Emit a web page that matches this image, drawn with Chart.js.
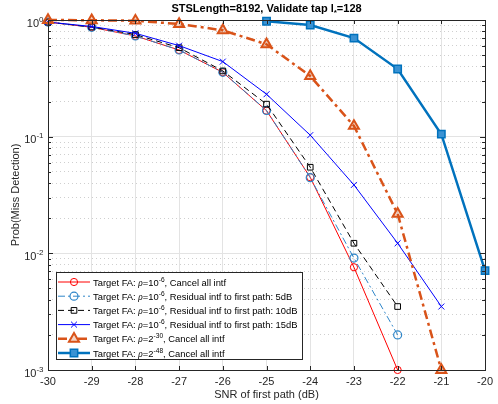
<!DOCTYPE html>
<html>
<head>
<meta charset="utf-8">
<script src="https://cdn.jsdelivr.net/npm/chart.js@4.4.0/dist/chart.umd.min.js"></script>
<style>
html,body{margin:0;padding:0;background:#fff;}
canvas{display:block;}
</style>
</head>
<body>
<canvas id="c" width="498" height="404"></canvas>
<script>
// values
const snr = [-30, -29, -28, -27, -26, -25, -24, -23, -22, -21, -20];
const cancelAll = [0.96, 0.866, 0.73, 0.553, 0.356, 0.167, 0.0449, 0.0076, 0.001, null, null];
const res5dB = [0.96, 0.866, 0.73, 0.553, 0.356, 0.168, 0.0445, 0.0091, 0.002, null, null];
const res10dB = [0.96, 0.872, 0.75, 0.579, 0.366, 0.19, 0.0547, 0.0122, 0.0035, null, null];
const res15dB = [0.96, 0.88, 0.769, 0.603, 0.44, 0.231, 0.103, 0.0386, 0.0122, 0.0035, null];
const fa2p30 = [1.0, 0.995, 0.986, 0.924, 0.816, 0.619, 0.331, 0.1235, 0.0218, 0.001, null];
const fa2p48 = [null, null, null, null, null, 0.975, 0.906, 0.70, 0.38, 0.105, 0.0071];

const seriesBase = ['10', '10', '10', '10', '2', '2'];
const seriesExp = ['-6', '-6', '-6', '-6', '-30', '-48'];
const seriesNote = [', Cancel all intf', ', Residual intf to first path: 5dB', ', Residual intf to first path: 10dB',
  ', Residual intf to first path: 15dB', ', Cancel all intf', ', Cancel all intf'];
const yDecades = [-3, -2, -1, 0];
const yMinorSteps = [2, 3, 4, 5, 6, 7, 8, 9];
const titleParts = ['STSLength=8192, Validate tap l', '*', '=128'];
const xTitle = 'SNR of first path (dB)';
const yTitle = 'Prob(Miss Detection)';

const FONT = "'Liberation Sans', Arial, Helvetica, sans-serif";
const INK = '#262626';

const styles = [
  {color: '#ff0000', width: 1, dash: [], marker: 'circle', r: 3.6, fill: null, mlw: 1},
  {color: '#2f86c9', width: 1, dash: [7, 3, 2, 3], marker: 'circle', r: 4, fill: null, mlw: 1.2},
  {color: '#000000', width: 1, dash: [6, 4], marker: 'rect', r: 4, fill: null, mlw: 1},
  {color: '#0000ff', width: 1, dash: [], marker: 'crossRot', r: 4.2, fill: null, mlw: 1},
  {color: '#d95319', width: 2.5, dash: [9, 4, 3, 4], marker: 'triangle', r: 5.8, fill: 'rgba(217,83,25,0.25)', mlw: 2},
  {color: '#0072bd', width: 2.5, dash: [], marker: 'rect', r: 5.2, fill: '#3a92d3', mlw: 1.5}
];

const seriesData = [cancelAll, res5dB, res10dB, res15dB, fa2p30, fa2p48];

function isDecade(v) {
  const l = Math.log10(v);
  return Math.abs(l - Math.round(l)) < 1e-9;
}

function markerPath(ctx, style, x, y, r) {
  ctx.beginPath();
  if (style === 'circle') {
    ctx.arc(x, y, r, 0, Math.PI * 2);
  } else if (style === 'rect') {
    const s = Math.SQRT1_2 * r;
    ctx.rect(x - s, y - s, 2 * s, 2 * s);
  } else if (style === 'triangle') {
    let a = 0;
    ctx.moveTo(x + Math.sin(a) * r, y - Math.cos(a) * r);
    a += 2 * Math.PI / 3;
    ctx.lineTo(x + Math.sin(a) * r, y - Math.cos(a) * r);
    a += 2 * Math.PI / 3;
    ctx.lineTo(x + Math.sin(a) * r, y - Math.cos(a) * r);
    ctx.closePath();
  } else if (style === 'crossRot') {
    const o = Math.SQRT1_2 * r;
    ctx.moveTo(x - o, y - o); ctx.lineTo(x + o, y + o);
    ctx.moveTo(x + o, y - o); ctx.lineTo(x - o, y + o);
  }
}

const matlabAxes = {
  id: 'matlabAxes',
  afterDraw(chart) {
    const ctx = chart.ctx;
    const a = chart.chartArea;
    const xs = chart.scales.x, ys = chart.scales.y;
    ctx.save();
    // inner tick marks
    ctx.strokeStyle = INK;
    ctx.lineWidth = 1;
    ctx.beginPath();
    snr.forEach(v => {
      const px = Math.round(xs.getPixelForValue(v)) + 0.5;
      ctx.moveTo(px, a.bottom); ctx.lineTo(px, a.bottom - 4);
      ctx.moveTo(px, a.top); ctx.lineTo(px, a.top + 4);
    });
    ys.ticks.forEach(t => {
      const py = Math.round(ys.getPixelForValue(t.value)) + 0.5;
      const len = isDecade(t.value) ? 5 : 3;
      ctx.moveTo(a.left, py); ctx.lineTo(a.left + len, py);
      ctx.moveTo(a.right, py); ctx.lineTo(a.right - len, py);
    });
    ctx.stroke();
    // axes box
    ctx.strokeRect(Math.round(a.left) + 0.5, Math.round(a.top) + 0.5,
      Math.round(a.right - a.left), Math.round(a.bottom - a.top));

    // y tick labels 10^k
    ctx.fillStyle = INK;
    ctx.textBaseline = 'alphabetic';
    ctx.textAlign = 'left';
    yDecades.forEach(d => {
      const py = ys.getPixelForValue(Math.pow(10, d));
      const ex = String(d);
      ctx.font = '8px ' + FONT;
      const we = ctx.measureText(ex).width;
      ctx.font = '11px ' + FONT;
      const wb = ctx.measureText('10').width;
      const right = a.left - 4.5;
      ctx.fillText('10', right - we - wb, py + 6.5);
      ctx.font = '8px ' + FONT;
      ctx.fillText(ex, right - we, py + 1.5);
    });

    // title with subscript
    ctx.fillStyle = '#000';
    const cx = (a.left + a.right) / 2;
    ctx.font = 'bold 11px ' + FONT;
    const w0 = ctx.measureText(titleParts[0]).width;
    const w2 = ctx.measureText(titleParts[2]).width;
    ctx.font = 'bold 8px ' + FONT;
    const w1 = ctx.measureText(titleParts[1]).width;
    let tx = cx - (w0 + w1 + w2) / 2;
    const ty = 12;
    ctx.font = 'bold 11px ' + FONT;
    ctx.fillText(titleParts[0], tx, ty); tx += w0;
    ctx.font = 'bold 8px ' + FONT;
    ctx.fillText(titleParts[1], tx, ty + 3); tx += w1;
    ctx.font = 'bold 11px ' + FONT;
    ctx.fillText(titleParts[2], tx, ty);

    // legend
    const lx = a.left + 8, ly = a.top + 252;
    const rowH = 14.2, textX = lx + 37;
    const rows = seriesData.map((d, i) => [
      {t: 'Target FA: ', f: '9.4px ' + FONT, dy: 0},
      {t: '\u03c1', f: 'italic 9.4px "Liberation Serif", serif', dy: 0},
      {t: '=' + seriesBase[i], f: '9.4px ' + FONT, dy: 0},
      {t: seriesExp[i], f: '6.6px ' + FONT, dy: -4},
      {t: seriesNote[i], f: '9.4px ' + FONT, dy: 0}
    ]);
    let maxW = 0;
    rows.forEach(parts => {
      let w = 0;
      parts.forEach(p => { ctx.font = p.f; p.w = ctx.measureText(p.t).width; w += p.w; });
      maxW = Math.max(maxW, w);
    });
    const boxW = textX - lx + maxW + 5, boxH = rowH * rows.length + 2;
    ctx.fillStyle = '#fff';
    ctx.fillRect(Math.round(lx) + 0.5, Math.round(ly) + 0.5, Math.round(boxW), Math.round(boxH));
    ctx.strokeStyle = INK;
    ctx.lineWidth = 1;
    ctx.setLineDash([]);
    ctx.strokeRect(Math.round(lx) + 0.5, Math.round(ly) + 0.5, Math.round(boxW), Math.round(boxH));
    rows.forEach((parts, i) => {
      const st = styles[i];
      const ry = ly + 10 + i * rowH;
      ctx.strokeStyle = st.color;
      ctx.lineWidth = st.width;
      ctx.setLineDash(st.dash);
      ctx.beginPath();
      ctx.moveTo(lx + 2, ry); ctx.lineTo(lx + 34, ry);
      ctx.stroke();
      ctx.setLineDash([]);
      ctx.lineWidth = st.mlw;
      markerPath(ctx, st.marker, lx + 18, ry, st.r);
      if (st.fill && st.marker !== 'crossRot') {
        ctx.fillStyle = st.marker === 'triangle' ? '#fff' : st.fill;
        ctx.fill();
        if (st.marker === 'triangle') { ctx.fillStyle = st.fill; ctx.fill(); }
      }
      ctx.stroke();
      let x = textX;
      ctx.fillStyle = '#000';
      parts.forEach(p => {
        ctx.font = p.f;
        ctx.fillText(p.t, x, ry + 3.5 + p.dy);
        x += p.w;
      });
    });
    ctx.restore();
  }
};

const datasets = seriesData.map((d, i) => {
  const st = styles[i];
  return {
    label: 'Target FA: \u03c1=' + seriesBase[i] + '^' + seriesExp[i] + seriesNote[i],
    data: d,
    borderColor: st.color,
    borderWidth: st.width,
    borderDash: st.dash,
    pointStyle: st.marker,
    pointRadius: st.r,
    pointBorderColor: st.color,
    pointBorderWidth: st.mlw,
    pointBackgroundColor: st.fill || 'rgba(0,0,0,0)',
    tension: 0,
    clip: false,
    spanGaps: false,
    order: -i
  };
});

new Chart(document.getElementById('c'), {
  type: 'line',
  data: {labels: snr, datasets: datasets},
  options: {
    responsive: false,
    animation: false,
    events: [],
    layout: {padding: {top: 20, right: 9, left: 0, bottom: 0}},
    plugins: {legend: {display: false}, tooltip: {enabled: false}, title: {display: false}},
    scales: {
      x: {
        type: 'linear', min: -30, max: -20,
        afterFit: s => { s.height = 34; },
        ticks: {stepSize: 1, color: INK, padding: 5, font: {family: FONT, size: 11}, maxRotation: 0,
          callback: v => String(v)},
        grid: {color: '#e3e3e3', lineWidth: 1, drawTicks: false},
        border: {display: false},
        title: {display: true, text: xTitle, color: INK, font: {family: FONT, size: 11}, padding: {top: 0, bottom: 2}}
      },
      y: {
        type: 'logarithmic', min: 0.001, max: 1,
        afterFit: s => { s.width = 48; },
        afterBuildTicks: s => {
          const t = [];
          yDecades.forEach(d => {
            t.push({value: Math.pow(10, d)});
            if (d < 0) yMinorSteps.forEach(m => t.push({value: m * Math.pow(10, d)}));
          });
          t.sort((p, q) => p.value - q.value);
          s.ticks = t;
        },
        ticks: {display: false},
        grid: {
          drawTicks: false,
          lineWidth: 1,
          color: c => (c.tick && isDecade(c.tick.value)) ? '#e3e3e3' : '#cfcfcf'
        },
        border: {display: false, dash: c => (c.tick && isDecade(c.tick.value)) ? [] : [1, 3]},
        title: {display: true, text: yTitle, color: INK, font: {family: FONT, size: 11}, padding: {top: 9, bottom: 0}}
      }
    }
  },
  plugins: [matlabAxes]
});
</script>
</body>
</html>
